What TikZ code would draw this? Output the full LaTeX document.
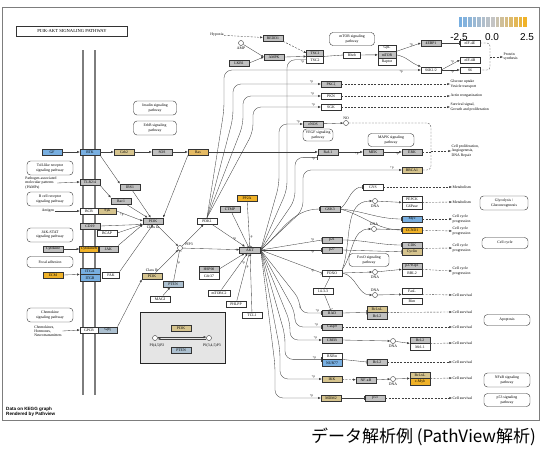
\documentclass[tikz,border=0pt]{standalone}
\usepackage{fontspec}
\setmainfont{Liberation Serif}
\newfontfamily\jpfont{Noto Sans CJK JP}
\newfontfamily\credfont{Liberation Sans}
\usetikzlibrary{positioning, arrows.meta, calc}
\definecolor{kBlue}{RGB}{120,175,225}
\definecolor{kSlate}{RGB}{172,192,208}
\definecolor{kTan}{RGB}{214,196,142}
\definecolor{kOrng}{RGB}{240,178,40}
\definecolor{kRas}{RGB}{228,186,100}
\definecolor{kGray}{RGB}{192,192,192}
\definecolor{kMid}{RGB}{196,196,196}
\definecolor{frameGray}{RGB}{125,125,125}

\begin{document}
\begin{tikzpicture}[x=1pt, y=-1pt, >=Latex, every node/.style={font=\fontsize{3.8}{4.2}\selectfont}]
  \tikzset{
    gene/.style={draw=black!80, line width=0.4pt, minimum width=20pt, minimum height=6.4pt, inner sep=0pt, fill=white},
    gGy/.style={gene, fill=kGray}, gBl/.style={gene, fill=kBlue}, gTn/.style={gene, fill=kTan},
    gOr/.style={gene, fill=kOrng}, gSl/.style={gene, fill=kSlate}, gRas/.style={gene, fill=kRas},
    pathbox/.style={draw=black!80, line width=0.4pt, rounded corners=3.5pt, align=center, minimum width=43pt, minimum height=14pt, inner sep=1pt, fill=white},
    cpd/.style={circle, draw=black!80, line width=0.4pt, minimum size=5pt, inner sep=0pt, fill=white},
    txt/.style={align=left, inner sep=0.5pt},
    pp/.style={inner sep=0.3pt, font=\fontsize{3.2}{3.4}\selectfont},
    act/.style={draw=black!75, line width=0.35pt, -{Latex[length=2.6pt,width=2.2pt]}},
    inh/.style={draw=black!75, line width=0.35pt, -{Bar[width=4.5pt]}},
    ind/.style={act, dash pattern=on 2pt off 1.3pt},
    rel/.style={draw=black!75, line width=0.35pt}
  }
  \useasboundingbox (0,0) rectangle (540,450);
  \draw[frameGray, line width=0.9pt] (2,7) rectangle (539,420);
  \draw[frameGray, line width=1.2pt] (83,50) -- (83,395);
  \draw[frameGray, line width=1.2pt] (95,50) -- (95,395);

  % legend
  \foreach \i in {0,...,6} {
    \pgfmathtruncatemacro\pc{100-\i*100/7}
    \fill[kBlue!\pc!kMid, draw=white, line width=0.3pt] ({458+\i*4.6},16) rectangle ++(4.6,11);
  }
  \foreach \i in {7,...,14} {
    \pgfmathtruncatemacro\pc{(\i-7)*100/7}
    \fill[kOrng!\pc!kMid, draw=white, line width=0.3pt] ({458+\i*4.6},16) rectangle ++(4.6,11);
  }
  \node[font=\credfont\fontsize{10}{11}\selectfont] (lgLo) at (459,37) {-2.5};
  \node[font=\credfont\fontsize{10}{11}\selectfont] (lgMid) at (492,37) {0.0};
  \node[font=\credfont\fontsize{10}{11}\selectfont] (lgHi) at (527,37) {2.5};

  \node[draw=black!80, line width=0.6pt, minimum width=111pt, minimum height=10pt, font=\fontsize{4.6}{5}\selectfont] (title) at (72,31) {PI3K-AKT SIGNALING PATHWAY};

  % pathway maps
  \node[pathbox] (insulin) at (155,108) {Insulin signaling\\pathway};
  \node[pathbox] (erbb) at (155,128) {ErbB signaling\\pathway};
  \node[pathbox, minimum width=46pt] (tlrpw) at (50,168) {Toll-like receptor\\signaling pathway};
  \node[pathbox, minimum width=46pt] (bcrpw) at (50,199) {B cell receptor\\signaling pathway};
  \node[pathbox, minimum width=46pt] (jakpw) at (50,235) {JAK-STAT\\signaling pathway};
  \node[pathbox, minimum width=46pt, minimum height=11pt] (focal) at (50,262) {Focal adhesion};
  \node[pathbox, minimum width=46pt] (chemopw) at (50,315) {Chemokine\\signaling pathway};
  \node[pathbox, minimum width=45pt, minimum height=13pt] (mtorpw) at (352,39) {mTOR signaling\\pathway};
  \node[pathbox, minimum width=30pt, minimum height=12pt] (vegfpw) at (318,135) {VEGF signaling\\pathway};
  \node[pathbox, minimum width=46pt, minimum height=13pt] (mapkpw) at (391,140) {MAPK signaling\\pathway};
  \node[pathbox, minimum width=48pt] (glycpw) at (504,203) {Glycolysis /\\Gluconeogenesis};
  \node[pathbox, minimum width=46pt, minimum height=11pt] (ccpw) at (505,243) {Cell cycle};
  \node[pathbox, minimum width=40pt, minimum height=13pt] (foxopw) at (369,260) {FoxO signaling\\pathway};
  \node[pathbox, minimum width=46pt, minimum height=11pt] (apopw) at (507,320) {Apoptosis};
  \node[pathbox, minimum width=46pt] (nfkbpw) at (507,380) {NFκB signaling\\pathway};
  \node[pathbox, minimum width=46pt, minimum height=13pt] (p53pw) at (507,400) {p53 signaling\\pathway};

  % receptors
  \node[gBl] (GF) at (52,152) {GF};
  \node[gBl] (RTK) at (90,152) {RTK};
  \node[gTn] (Grb2) at (124,152) {Grb2};
  \node[gGy] (SOS) at (162,152) {SOS};
  \node[gRas] (Ras) at (198,152) {Ras};
  \node[gGy] (Raf1) at (328,152) {Raf-1};
  \node[gGy] (MEK) at (373,152) {MEK};
  \node[gGy] (ERK) at (412,152) {ERK};
  \node[txt] (pamps) at (41,183) {Pathogen-associated\\molecular patterns\\(PAMPs)};
  \node[gGy] (TLR) at (90,182) {TLR2/4};
  \node[gGy] (IRS1) at (130,187) {IRS1};
  \node[gGy] (Rac1) at (121,201) {Rac1};
  \node[txt] (antigen) at (48,211) {Antigen};
  \node[gene, minimum width=18pt] (BCR) at (89,211) {BCR};
  \node[gTn, minimum width=18pt, right=0pt of BCR] (Syk) {Syk};
  \node[gGy] (CD19) at (90,226) {CD19};
  \node[gene] (BCAP) at (107,233) {BCAP};
  \node[gGy] (cytokine) at (53,249) {Cytokine};
  \node[gOr, minimum width=19pt] (CytR) at (89,249) {CytokineR};
  \node[gGy, minimum width=19pt, right=0pt of CytR] (JAK) {JAK};
  \node[gOr] (ECM) at (53,275) {ECM};
  \node[gBl] (ITGA) at (90,271) {ITGA};
  \node[gBl, below=0pt of ITGA] (ITGB) {ITGB};
  \node[gene, minimum width=17pt] (FAK) at (111,275) {FAK};
  \node[txt] (chemtxt) at (48,331) {Chemokines,\\Hormones,\\Neurotransmitters};
  \node[gene, minimum width=18pt] (GPCR) at (89,330) {GPCR};
  \node[gSl, minimum width=19pt, right=0pt of GPCR] (Gbg) {Gβγ};

  % PI3K / AKT core
  \node[gGy] (PI3Ka) at (153,221) {PI3K};
  \node[txt, below=0.5pt of PI3Ka] (classIa) {Class Ia};
  \node[gTn] (PI3Kb) at (152,276) {PI3K};
  \node[txt, above=0.5pt of PI3Kb] (classIb) {Class Ib};
  \node[gSl] (PTEN) at (173,284) {PTEN};
  \node[gene] (MAGI) at (160,299) {MAGI};
  \node[cpd] (PIP3) at (180,248) {};
  \node[txt] (PIP3l) at (189,244) {PIP3};
  \node[gene] (PDK1) at (207,221) {PDK1};
  \node[gGy, minimum width=21pt] (AKT) at (250,250) {AKT};
  \node[gGy] (CTMP) at (230,209) {CTMP};
  \node[gOr] (PP2A) at (247,198) {PP2A};
  \node[gGy] (HSP90) at (209,269) {HSP90};
  \node[gene, below=0pt of HSP90] (Cdc37) {Cdc37};
  \node[gene, minimum width=22pt] (mTORC2) at (219,293) {mTORC2};
  \node[gene] (PHLPP) at (236,304) {PHLPP};
  \node[gene] (TCL1) at (252,315) {TCL1};

  \draw[draw=black!85, line width=0.8pt, fill=black!10] (140,312) rectangle (225,363);
  \node[gTn] (PI3Kx) at (181,328) {PI3K};
  \node[gSl] (PTENx) at (181,350) {PTEN};
  \node[cpd] (PIP2x) at (155,338) {};
  \node[txt] (PIP2xl) at (157,346) {PI(4,5)P2};
  \node[cpd] (PIP3x) at (209,338) {};
  \node[txt] (PIP3xl) at (212,346) {PI(3,4,5)P3};
  \draw[act] ([yshift=0.9pt]PIP2x.east) -- ([yshift=0.9pt]PIP3x.west);
  \draw[act] ([yshift=-0.9pt]PIP3x.west) -- ([yshift=-0.9pt]PIP2x.east);

  % mTOR branch
  \node[txt] (hypoxia) at (217,35) {Hypoxia};
  \node[gGy] (REDD1) at (273,38) {REDD1};
  \node[cpd] (AMP) at (241,43) {};
  \node[txt, below=0.3pt of AMP] (AMPl) {AMP};
  \node[gGy] (AMPK) at (274,57) {AMPK};
  \node[gGy] (LKB1) at (239,63) {LKB1};
  \node[gGy, minimum width=17pt] (TSC1) at (315,53) {TSC1};
  \node[gene, minimum width=17pt, below=0pt of TSC1] (TSC2) {TSC2};
  \node[gene, minimum width=17pt] (Rheb) at (352,55) {Rheb};
  \node[gene, minimum width=18pt] (GbL) at (387,48) {GβL};
  \node[gGy, minimum width=18pt, below=0pt of GbL] (mTOR) {mTOR};
  \node[gene, minimum width=18pt, below=0pt of mTOR] (Raptor) {Raptor};
  \node[gGy] (EBP1) at (431,43) {4EBP1};
  \node[gene] (eIF4E) at (470,43) {eIF-4E};
  \node[gene] (S6K) at (431,70) {S6K1/2};
  \node[gene] (eIF4B) at (470,60) {eIF-4B};
  \node[gene] (S6) at (470,70) {S6};
  \node[txt, anchor=west] (protsyn) at (503,57) {Protein\\synthesis};
  \coordinate (brkPS) at (490,57);

  \node[gGy] (PKCz) at (331,84) {PKCζ};
  \node[gene] (PKN) at (331,96) {PKN};
  \node[gene] (SGK) at (331,107) {SGK};
  \node[txt, anchor=west] (glucose) at (450,84) {Glucose uptake\\Vesicle transport};
  \node[txt, anchor=west] (actin) at (450,96) {Actin reorganization};
  \node[txt, anchor=west] (surv) at (450,107) {Survival signal,\\Growth and proliferation};
  \node[gGy] (eNOS) at (313,124) {eNOS};
  \node[cpd] (NO) at (346,123) {};
  \node[txt, above=0.2pt of NO] (NOl) {NO};
  \node[gTn] (BRCA1) at (412,170) {BRCA1};
  \node[txt, anchor=west] (prolif) at (451,151) {Cell proliferation,\\Angiogenesis,\\DNA Repair};
  \coordinate (brkPr) at (431,151);

  % AKT targets
  \node[gGy] (GSK3) at (330,209) {GSK3};
  \node[gGy] (p21) at (332,240) {p21};
  \node[gGy] (p27) at (332,250) {p27};
  \node[gene] (FOXO) at (332,273) {FOXO};
  \node[gene] (f1433) at (323,291) {14-3-3};
  \node[gGy] (BAD) at (332,313) {BAD};
  \node[gGy] (Casp9) at (332,327) {Casp9};
  \node[gGy] (CREB) at (332,340) {CREB};
  \node[gene] (RXRa) at (332,356) {RXRα};
  \node[gBl, below=0pt of RXRa] (NUR77) {NUR77};
  \node[gTn] (IKK) at (332,379) {IKK};
  \node[gTn] (MDM2) at (331,398) {MDM2};

  % outputs
  \node[gene] (GYS) at (373,187) {GYS};
  \node[cpd] (DNA1) at (375,201) {};
  \node[txt, below=0.2pt of DNA1] (DNA1l) {DNA};
  \node[gene] (PEPCK) at (412,199) {PEPCK};
  \node[gene, below=0pt of PEPCK] (G6Pase) {G6Pase};
  \node[txt, anchor=west] (metab1) at (452,187) {Metabolism};
  \node[txt, anchor=west] (metab2) at (452,202) {Metabolism};
  \node[gBl] (Myc) at (412,219) {Myc};
  \node[cpd] (DNA2) at (374,229) {};
  \node[txt, above=0.2pt of DNA2] (DNA2l) {DNA};
  \node[gOr] (CCND1) at (412,230) {CCND1};
  \node[gGy] (CDK) at (412,245) {CDK};
  \node[gTn, below=0pt of CDK] (Cyclin) {Cyclin};
  \node[txt, anchor=west] (ccp1) at (452,219) {Cell cycle\\progression};
  \node[txt, anchor=west] (ccp2) at (452,231) {Cell cycle\\progression};
  \node[txt, anchor=west] (ccp3) at (452,248) {Cell cycle\\progression};
  \node[gGy] (p27K) at (412,266) {p27Kip1};
  \node[gene, below=0pt of p27K] (RBL2) {RBL2};
  \node[cpd] (DNA3) at (375,272) {};
  \node[txt, below=0.2pt of DNA3] (DNA3l) {DNA};
  \node[txt, anchor=west] (ccp4) at (452,271) {Cell cycle\\progression};
  \node[cpd] (DNA4) at (375,295) {};
  \node[txt, above=0.2pt of DNA4] (DNA4l) {DNA};
  \node[gene] (FasL) at (412,291) {FasL};
  \node[gene] (Bim) at (412,301) {Bim};
  \node[txt, anchor=west] (cs1) at (452,295) {Cell survival};
  \node[gTn] (BclxLa) at (377,309) {Bcl-xL};
  \node[gGy, below=0pt of BclxLa] (Bcl2a) {Bcl-2};
  \node[txt, anchor=west] (cs2) at (452,312) {Cell survival};
  \node[txt, anchor=west] (cs3) at (452,327) {Cell survival};
  \node[cpd] (DNA5) at (393,341) {};
  \node[txt, below=0.2pt of DNA5] (DNA5l) {DNA};
  \node[gGy] (Bcl2b) at (420,340) {Bcl-2};
  \node[gene, below=0pt of Bcl2b] (Mcl1) {Mcl-1};
  \node[txt, anchor=west] (cs4) at (452,343) {Cell survival};
  \node[gGy] (Bcl2c) at (377,362) {Bcl-2};
  \node[txt, anchor=west] (cs5) at (452,362) {Cell survival};
  \node[gGy] (NFkB) at (366,380) {NF-κB};
  \node[cpd] (DNA6) at (393,379) {};
  \node[txt, below=0.2pt of DNA6] (DNA6l) {DNA};
  \node[gTn] (BclxLb) at (420,375) {Bcl-xL};
  \node[gOr, below=0pt of BclxLb] (cMyb) {c-Myb};
  \node[txt, anchor=west] (cs6) at (452,378) {Cell survival};
  \node[gGy] (p53) at (375,398) {p53};
  \node[txt, anchor=west] (cs7) at (452,398) {Cell survival};

  \node[anchor=west, align=left, inner sep=0pt, font=\credfont\bfseries\fontsize{4.6}{5.6}\selectfont] (credit) at (6,412) {Data on KEGG graph\\Rendered by Pathview};
  \node[anchor=east, inner sep=0pt, font=\jpfont\fontsize{17}{20}\selectfont] (caption) at (536,437) {データ解析例 (PathView解析)};

  % receptor side
  \draw[act] (GF) -- (RTK);
  \draw[act] (RTK) -- (Grb2);
  \draw[act] (Grb2) -- (SOS);
  \draw[act] (SOS) -- (Ras);
  \draw[act] (Ras) -- (Raf1);
  \draw[act] (Raf1) -- (MEK) node[pp, pos=0.75, below] (pMEK) {+p};
  \draw[act] (MEK) -- (ERK) node[pp, pos=0.75, below] (pERK) {+p};
  \draw[act] (RTK.south east) -- (IRS1.north west);
  \draw[act] (pamps.east) -- (TLR.west);
  \draw[act] (TLR.south east) -- (Rac1.north west);
  \draw[act] (antigen) -- (BCR);
  \draw[act] (cytokine) -- (CytR);
  \draw[act] (ECM.east) -- (ITGA.south west);
  \draw[act] (chemtxt.east) -- (GPCR.west);
  \draw[act] (IRS1) -- (PI3Ka);
  \draw[act] (Rac1) -- (PI3Ka);
  \draw[act] (Syk.east) -- (PI3Ka.west) node[pp, pos=0.2, below] (pSyk) {+p};
  \draw[act] (CD19.east) -- (PI3Ka.south west);
  \draw[act] (BCAP.east) -- (PI3Ka.south west);
  \draw[act] (JAK.north east) -- (PI3Ka.south west);
  \draw[act] (FAK.north east) -- (PI3Ka.south);
  \draw[act] (Ras.south west) -- (PI3Ka.north east);
  \draw[act] (Gbg.north east) -- (PI3Kb.south west);
  \draw[act] (PI3Ka) -- (PIP3);
  \draw[act] (PI3Kb) -- (PIP3);
  \draw[inh] (PTEN) -- (PIP3) node[pp, pos=0.6, right] (pPTEN) {-p};
  \draw[act] (MAGI) -- (PTEN);
  \draw[act] (PIP3) -- (PDK1);
  \draw[act] (PIP3) -- (AKT);
  \draw[act] (PDK1) -- (AKT) node[pp, pos=0.75, above left] (pPDK) {+p};
  \draw[inh] (CTMP) -- (AKT);
  \draw[inh] (PP2A) -- (AKT) node[pp, pos=0.8, right] (pPP2A) {-p};
  \draw[act] (HSP90.east) -- (AKT);
  \draw[act] (mTORC2) -- (AKT) node[pp, pos=0.75, right] (pmTORC) {+p};
  \draw[inh] (PHLPP) -- (AKT) node[pp, pos=0.7, right] (pPHLPP) {-p};
  \draw[act] (TCL1) -- (AKT);

  % mTOR branch
  \draw[ind] (hypoxia) -- (REDD1);
  \draw[ind] (REDD1.south east) -- (TSC1.west);
  \draw[act] (AMP) -- (AMPK.west);
  \draw[act] (LKB1.east) -- (AMPK.west);
  \draw[act] (AMPK.east) -- (TSC1.south west);
  \draw[inh] (TSC1.south east) -- (Rheb.west);
  \draw[act] (Rheb) -- (mTOR);
  \draw[act] (mTOR.north east) -- (EBP1.west) node[pp, pos=0.6, above] (pEBP) {+p};
  \draw[act] (mTOR.east) to[out=-10, in=160] (S6K.north west);
  \draw[inh] (EBP1) -- (eIF4E);
  \draw[act] (S6K.east) -- (eIF4B.west) node[pp, pos=0.6, above] (pB) {+p};
  \draw[act] (S6K) -- (S6) node[pp, pos=0.6, below] (pS6) {+p};
  \draw[rel, dash pattern=on 2pt off 1.3pt, rounded corners=3pt] (eIF4E.east) -| (brkPS) |- (S6.east);
  \draw[ind] (brkPS) -- (protsyn.west);

  % PDK1 fan
  \draw[act, rounded corners=8pt] (PDK1.north) -- (224,110) |- (S6K.west) node[pp, pos=0.95, below] (pS6K) {+p};
  \draw[act, rounded corners=8pt] (PDK1.north) -- (233,118) |- (PKCz.west) node[pp, pos=0.96, above left] (pPKC) {+p};
  \draw[act, rounded corners=8pt] (PDK1.north) -- (243,125) |- (PKN.west) node[pp, pos=0.96, above left] (pPKN) {+p};
  \draw[act, rounded corners=8pt] (PDK1.north) -- (253,132) |- (SGK.west) node[pp, pos=0.96, above left] (pSGK) {+p};
  \draw[ind] (PKCz) -- (glucose.west);
  \draw[ind] (PKN) -- (actin.west);
  \draw[ind] (SGK) -- (surv.west);

  % AKT fan
  \draw[inh, rounded corners=8pt] (AKT.east) -- (287,190) |- (TSC2.west) node[pp, pos=0.9, below] (pTSC) {+p};
  \draw[act, rounded corners=8pt] (AKT.east) -- (279,185) |- (eNOS.west) node[pp, pos=0.9, above] (peNOS) {+p};
  \draw[inh, rounded corners=8pt] (AKT.east) -- (295,200) |- ([yshift=-2pt]Raf1.south west) node[pp, pos=0.9, below] (pRaf) {+p};
  \draw[act, rounded corners=8pt] (AKT.east) -- (303,210) |- (BRCA1.west) node[pp, pos=0.95, above] (pBRCA) {+p};
  \draw[inh] (AKT.east) to[out=40, in=180] (GSK3.west) node[pp, pos=0.9, above] (pGSK) {+p};
  \draw[inh] (AKT.east) -- (p21.west) node[pp, pos=0.85, above] (pp21) {+p};
  \draw[inh] (AKT.east) -- (p27.west) node[pp, pos=0.85, below] (pp27) {+p};
  \draw[inh] (AKT.east) -- (FOXO.west) node[pp, pos=0.85, below] (pFOXO) {+p};
  \draw[inh, rounded corners=8pt] (AKT.east) -- (300,300) |- (BAD.west) node[pp, pos=0.9, above] (pBAD) {+p};
  \draw[inh, rounded corners=8pt] (AKT.east) -- (295,312) |- (Casp9.west) node[pp, pos=0.9, above] (pCasp) {+p};
  \draw[act, rounded corners=8pt] (AKT.east) -- (290,322) |- (CREB.west) node[pp, pos=0.9, above] (pCREB) {+p};
  \draw[inh, rounded corners=8pt] (AKT.east) -- (285,335) |- (RXRa.south west) node[pp, pos=0.9, above] (pRXR) {+p};
  \draw[act, rounded corners=8pt] (AKT.east) -- (280,350) |- (IKK.west) node[pp, pos=0.9, above] (pIKK) {+p};
  \draw[act, rounded corners=8pt] (AKT.east) -- (275,365) |- (MDM2.west) node[pp, pos=0.9, above] (pMDM) {+p};

  % downstream
  \draw[act] (eNOS) -- (NO);
  \draw[rel, dash pattern=on 2pt off 1.3pt, rounded corners=4pt] (NO.east) -| (brkPr) |- (BRCA1.east);
  \draw[rel, dash pattern=on 2pt off 1.3pt] (ERK.east) -- (ERK.east -| brkPr);
  \draw[ind] (brkPr) -- (prolif.west);
  \draw[inh] (GSK3.east) to[out=40, in=180] (GYS.west) node[pp, pos=0.85, above] (pGYS) {+p};
  \draw[inh] (GSK3.east) to[out=-5, in=180] (Myc.west) node[pp, pos=0.9, above] (pMyc) {+p};
  \draw[inh] (GSK3.east) to[out=-15, in=180] (CCND1.west);
  \draw[ind] (GYS) -- (metab1.west);
  \draw[act] (FOXO.north east) to[out=70, in=180] (DNA1.west);
  \draw[act] (DNA1) -- (PEPCK.south west);
  \draw[ind] (PEPCK.south east) -- (metab2.west);
  \draw[ind] (Myc) -- (ccp1.west);
  \draw[act] (FOXO.north east) to[out=55, in=180] (DNA2.west);
  \draw[inh] (DNA2) -- (CCND1);
  \draw[ind] (CCND1) -- (ccp2.west);
  \draw[inh] (p21.east) to[out=0, in=180] (CDK.west);
  \draw[inh] (p27.east) -- (Cyclin.west);
  \draw[ind] (CDK.south east) -- (ccp3.west);
  \draw[act] (FOXO.east) -- (DNA3.west);
  \draw[act] (DNA3) -- (p27K.south west);
  \draw[ind] (p27K.south east) -- (ccp4.west);
  \draw[act] (FOXO.east) to[out=-10, in=180] (DNA4.west);
  \draw[act] (DNA4) -- (FasL.south west);
  \draw[ind] (FasL.south east) -- (cs1.west);
  \draw[rel] (FOXO) -- (f1433);
  \draw[inh] (f1433) -- (BAD);
  \draw[inh] (BAD.east) -- (BclxLa.south west);
  \draw[ind] (BclxLa.south east) -- (cs2.west);
  \draw[ind] (Casp9) -- (cs3.west);
  \draw[act] (CREB.east) -- (DNA5.west);
  \draw[act] (DNA5) -- (Bcl2b.south west);
  \draw[ind] (Bcl2b.south east) -- (cs4.west);
  \draw[inh] (RXRa.south east) -- (Bcl2c.west);
  \draw[ind] (Bcl2c) -- (cs5.west);
  \draw[ind] (IKK) -- (NFkB);
  \draw[act] (NFkB) -- (DNA6);
  \draw[act] (DNA6) -- (BclxLb.south west);
  \draw[ind] (BclxLb.south east) -- (cs6.west);
  \draw[inh] (MDM2) -- (p53);
  \draw[ind] (p53) -- (cs7.west);
\end{tikzpicture}
\end{document}
